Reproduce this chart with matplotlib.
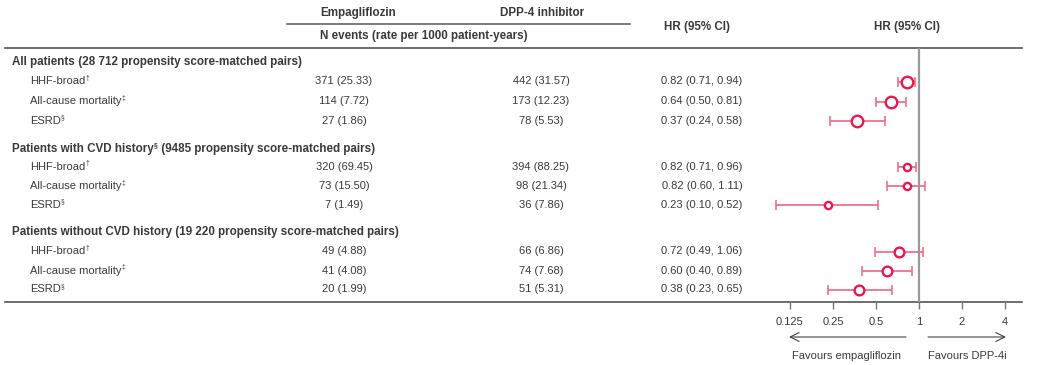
import numpy as np
import matplotlib
matplotlib.use("Agg")
import matplotlib.pyplot as plt

plt.rcParams['font.family'] = ['Liberation Sans', 'DejaVu Sans']

# data
group_names = ["All patients", "Patients with CVD history", "Patients without CVD history"]
group_sups = ["", "§", ""]
group_notes = [" (28 712 propensity score-matched pairs)",
               " (9485 propensity score-matched pairs)",
               " (19 220 propensity score-matched pairs)"]
outcomes = ["HHF-broad", "All-cause mortality", "ESRD"]
outcome_sups = ["†", "‡", "§"]

empa_n = [371, 114, 27, 320, 73, 7, 49, 41, 20]
empa_rate = [25.33, 7.72, 1.86, 69.45, 15.50, 1.49, 4.88, 4.08, 1.99]
dpp_n = [442, 173, 78, 394, 98, 36, 66, 74, 51]
dpp_rate = [31.57, 12.23, 5.53, 88.25, 21.34, 7.86, 6.86, 7.68, 5.31]
hr = [0.82, 0.64, 0.37, 0.82, 0.82, 0.23, 0.72, 0.60, 0.38]
hr_lo = [0.71, 0.50, 0.24, 0.71, 0.60, 0.10, 0.49, 0.40, 0.23]
hr_hi = [0.94, 0.81, 0.58, 0.96, 1.11, 0.52, 1.06, 0.89, 0.65]

xticks = [0.125, 0.25, 0.5, 1, 2, 4]
xtick_labels = ["0.125", "0.25", "0.5", "1", "2", "4"]

# layout (pixels)
W, H = 1041, 365
group_y = [62.5, 149, 232.5]
row_y = [81.5, 101.5, 121, 167, 186, 205, 251.5, 270.7, 289.5]
marker_sizes = [8.3, 5.2, 7.0]
TXT = "#3a3a3a"
RED = "#e8184d"
PINK = "#f0708f"
FS = 8
FSB = 8.4

fig = plt.figure(figsize=(W / 100, H / 100), dpi=100)
ax = fig.add_axes([0, 0, 1, 1])
ax.set_xlim(0, W)
ax.set_ylim(H, 0)
ax.axis("off")

renderer = fig.canvas.get_renderer()


def text_with_sup(x, y, parts, bold=False):
    # parts: list of (string, is_sup)
    cx = x
    size = FSB if bold else FS
    for s, sup in parts:
        if not s:
            continue
        t = ax.text(cx, y - (3 if sup else 0), s, fontsize=size * 0.6 if sup else size,
                    fontweight="bold" if bold else "normal", color=TXT,
                    ha="left", va="center")
        bb = t.get_window_extent(renderer=renderer)
        cx += bb.width


# header
ax.text(358, 13, "Empagliflozin", fontsize=FSB, fontweight="bold", color=TXT, ha="center", va="center")
ax.text(542, 13, "DPP-4 inhibitor", fontsize=FSB, fontweight="bold", color=TXT, ha="center", va="center")
ax.plot([287, 630], [23.5, 23.5], color="#666666", lw=1.2)
ax.text(424, 35.5, "N events (rate per 1000 patient-years)", fontsize=FSB, fontweight="bold",
        color=TXT, ha="center", va="center")
ax.text(697, 27, "HR (95% CI)", fontsize=FSB, fontweight="bold", color=TXT, ha="center", va="center")
ax.text(907, 27, "HR (95% CI)", fontsize=FSB, fontweight="bold", color=TXT, ha="center", va="center")
ax.plot([5, 1022], [48.3, 48.3], color="#555555", lw=1.2)
ax.plot([5, 1022], [302, 302], color="#555555", lw=1.2)

# table body
for g in range(3):
    text_with_sup(12, group_y[g], [(group_names[g], False), (group_sups[g], True),
                                   (group_notes[g], False)], bold=True)
    for k in range(3):
        i = g * 3 + k
        y = row_y[i]
        text_with_sup(30, y, [(outcomes[k], False), (outcome_sups[k], True)])
        ax.text(344, y, f"{empa_n[i]} ({empa_rate[i]:.2f})", fontsize=FS, color=TXT, ha="center", va="center")
        ax.text(541, y, f"{dpp_n[i]} ({dpp_rate[i]:.2f})", fontsize=FS, color=TXT, ha="center", va="center")
        ax.text(702, y, f"{hr[i]:.2f} ({hr_lo[i]:.2f}, {hr_hi[i]:.2f})", fontsize=FS, color=TXT,
                ha="center", va="center")

# forest plot
x0, x1, ytop, ybot = 760, 1022, 48.3, 302
fx = fig.add_axes([x0 / W, 1 - ybot / H, (x1 - x0) / W, (ybot - ytop) / H])
fx.patch.set_alpha(0)
fx.set_xscale("log", base=2)
fx.set_xlim(2 ** (-3 - 30 / 43), 2 ** (2 + 17 / 43))
fx.set_ylim(ybot, ytop)
for s in fx.spines.values():
    s.set_visible(False)
fx.set_yticks([])
fx.set_xticks(xticks)
fx.set_xticklabels(xtick_labels)
fx.minorticks_off()
fx.tick_params(axis="x", length=5, width=1, color="#777777", pad=5.5, labelsize=FS, labelcolor=TXT)
fx.axvline(1, color="#999999", lw=1.6, zorder=1)

for i in range(9):
    g = i // 3
    y = row_y[i]
    fx.errorbar(hr[i], y, xerr=[[hr[i] - hr_lo[i]], [hr_hi[i] - hr[i]]], fmt="none",
                ecolor=PINK, elinewidth=1.3, capsize=3.5, capthick=1.2, zorder=2)
    fx.plot(hr[i], y, "o", ms=marker_sizes[g], mfc="white", mec=RED, mew=1.7, zorder=3)

# direction arrows
ax.annotate("", xy=(789, 337), xytext=(906, 337),
            arrowprops=dict(arrowstyle="->", color="#444444", lw=0.8, mutation_scale=16,
                            shrinkA=0, shrinkB=0))
ax.annotate("", xy=(1006, 337), xytext=(928, 337),
            arrowprops=dict(arrowstyle="->", color="#444444", lw=0.8, mutation_scale=16,
                            shrinkA=0, shrinkB=0))
ax.text(847, 356, "Favours empagliflozin", fontsize=FS, color=TXT, ha="center", va="center")
ax.text(967, 356, "Favours DPP-4i", fontsize=FS, color=TXT, ha="center", va="center")

fig.savefig("out.png", dpi=100)
